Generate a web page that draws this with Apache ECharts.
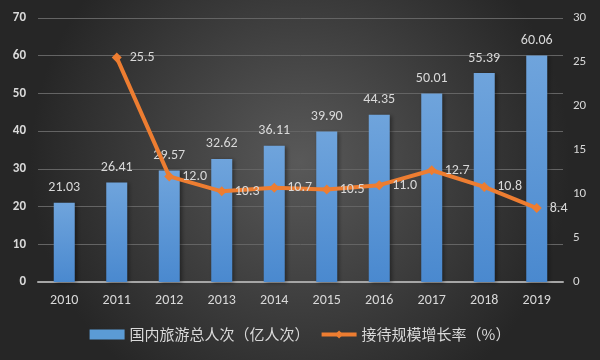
<!DOCTYPE html>
<html><head><meta charset="utf-8">
<script src="https://cdn.jsdelivr.net/npm/echarts@6/dist/echarts.min.js"></script>
<style>html,body{margin:0;padding:0;}#c{width:600px;height:360px;}</style>
</head><body><div id="c"></div>
<script>
const categories = ['2010','2011','2012','2013','2014','2015','2016','2017','2018','2019'];
const visitors = [21.03, 26.41, 29.57, 32.62, 36.11, 39.90, 44.35, 50.01, 55.39, 60.06];
const growth = [null, 25.5, 12.0, 10.3, 10.7, 10.5, 11.0, 12.7, 10.8, 8.4];
const seriesNames = ['国内旅游总人次（亿人次）', '接待规模增长率（%）'];

const chart = echarts.init(document.getElementById('c'));
const txt = '#d9d9d9';
const font = 'Calibri, "Liberation Sans", "Noto Sans CJK SC", sans-serif';
chart.setOption({
  backgroundColor: {
    type: 'radial', x: 0.5, y: 0.45, r: 0.75,
    colorStops: [{offset: 0, color: '#595959'}, {offset: 1, color: '#262626'}]
  },
  textStyle: {fontFamily: font},
  grid: {left: 38, right: 37, top: 18, bottom: 78},
  legend: {
    bottom: 13, left: 'center', itemGap: 10,
    textStyle: {color: txt, fontSize: 15, fontFamily: '"Noto Sans CJK SC", sans-serif'},
    data: [
      {name: seriesNames[0], icon: 'rect', itemStyle: {color: '#5b9bd5'}},
      {name: seriesNames[1], lineStyle: {width: 4, color: '#ed7d31'}}
    ],
    itemWidth: 35, itemHeight: 10
  },
  xAxis: {
    type: 'category', data: categories,
    axisLine: {lineStyle: {color: '#a6a6a6', width: 2}},
    axisTick: {show: false},
    axisLabel: {color: txt, fontSize: 14, margin: 12}
  },
  yAxis: [
    {type: 'value', min: 0, max: 70, interval: 10,
     axisLine: {show: false}, axisTick: {show: false},
     splitLine: {lineStyle: {color: '#646464', width: 1}},
     axisLabel: {color: txt, fontSize: 13, margin: 12, fontWeight: 'bold'}},
    {type: 'value', min: 0, max: 30, interval: 5,
     axisLine: {show: false}, axisTick: {show: false},
     splitLine: {show: false},
     axisLabel: {color: txt, fontSize: 13, margin: 10}}
  ],
  series: [
    {
      name: seriesNames[0], type: 'bar', data: visitors, barWidth: 21,
      itemStyle: {color: {type: 'linear', x: 0, y: 0, x2: 0, y2: 1,
        colorStops: [{offset: 0, color: '#6fa4dc'}, {offset: 1, color: '#4a89cf'}]},
        shadowColor: 'rgba(0,0,0,0.4)', shadowBlur: 4, shadowOffsetX: 2, shadowOffsetY: 1},
      label: {show: true, position: 'top', distance: 8, color: txt, fontSize: 14,
        formatter: p => p.value.toFixed(2)}
    },
    {
      name: seriesNames[1], type: 'line', yAxisIndex: 1, data: growth,
      symbol: 'diamond', symbolSize: 10, connectNulls: false,
      lineStyle: {color: '#ed7d31', width: 4},
      itemStyle: {color: '#ed7d31'},
      label: {show: true, position: 'right', distance: 8, color: txt, fontSize: 14,
        formatter: p => p.value == null ? '' : p.value.toFixed(1)}
    }
  ]
});
</script></body></html>
